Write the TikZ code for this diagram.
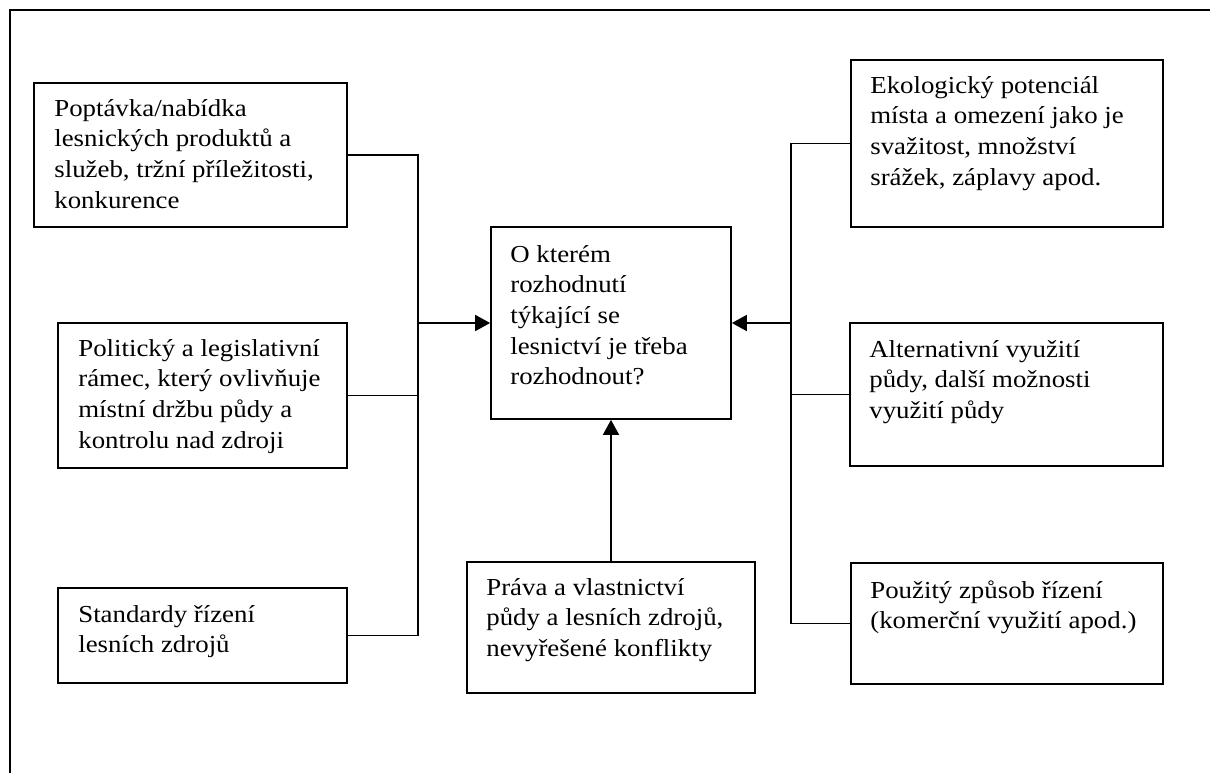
\documentclass[tikz,border=0pt]{standalone}
\usepackage{fontspec}
\setmainfont{Liberation Serif}[FakeStretch=1.1]
\usetikzlibrary{arrows.meta}

\tikzset{
  box/.style={draw, line width=1.7pt, inner sep=0pt, rectangle},
  txt/.style={inner sep=0pt, anchor=base west},
  link/.style={line width=1.7pt},
  arrowlink/.style={line width=1.7pt, -{Triangle[length=15pt,width=16pt]}},
}
\newcommand{\boxtext}[1]{\parbox[t]{330pt}{\fontsize{24.4}{30.7}\selectfont #1}}

\begin{document}
\begin{tikzpicture}[x=1pt,y=-1pt]
  \useasboundingbox (0,0) rectangle (1210,773);

  % outer frame (top and left edges)
  \draw[line width=1.7pt] (10,773) -- (10,10) -- (1210,10);

  % left column
  \node[box, minimum width=313pt, minimum height=144pt] (b1) at (190.5,155) {};
  \node[box, minimum width=289pt, minimum height=145pt] (b2) at (202.5,395.5) {};
  \node[box, minimum width=289pt, minimum height=95pt]  (b3) at (202.5,635.5) {};

  % centre
  \node[box, minimum width=240pt, minimum height=192pt] (c) at (611,323) {};
  \node[box, minimum width=288pt, minimum height=131pt] (bt) at (611,627.5) {};

  % right column
  \node[box, minimum width=312pt, minimum height=167pt] (r1) at (1007,143.5) {};
  \node[box, minimum width=313pt, minimum height=143pt] (r2) at (1006.5,394.5) {};
  \node[box, minimum width=312pt, minimum height=121pt] (r3) at (1007,623.5) {};

  % texts
  \node[txt] (b1t) at ([xshift=21pt,yshift=-34pt]b1.north west)
    {\boxtext{Poptávka/nabídka\\lesnických produktů a\\služeb, tržní příležitosti,\\konkurence}};
  \node[txt] (b2t) at ([xshift=21pt,yshift=-34pt]b2.north west)
    {\boxtext{Politický a legislativní\\rámec, který ovlivňuje\\místní držbu půdy a\\kontrolu nad zdroji}};
  \node[txt] (b3t) at ([xshift=21pt,yshift=-35pt]b3.north west)
    {\boxtext{Standardy řízení\\lesních zdrojů}};
  \node[txt] (ct) at ([xshift=20pt,yshift=-36pt]c.north west)
    {\boxtext{O kterém\\rozhodnutí\\týkající se\\lesnictví je třeba\\rozhodnout?}};
  \node[txt] (btt) at ([xshift=20pt,yshift=-34pt]bt.north west)
    {\boxtext{Práva a vlastnictví\\půdy a lesních zdrojů,\\nevyřešené konflikty}};
  \node[txt] (r1t) at ([xshift=20pt,yshift=-34pt]r1.north west)
    {\boxtext{Ekologický potenciál\\místa a omezení jako je\\svažitost, množství\\srážek, záplavy apod.}};
  \node[txt] (r2t) at ([xshift=20pt,yshift=-35pt]r2.north west)
    {\boxtext{Alternativní využití\\půdy, další možnosti\\využití půdy}};
  \node[txt] (r3t) at ([xshift=20pt,yshift=-36pt]r3.north west)
    {\boxtext{Použitý způsob řízení\\(komerční využití apod.)}};

  % collecting lines and arrows
  \coordinate (lbus) at (418,323);
  \coordinate (rbus) at (791,323);

  \draw[link] (b1.east) -| (lbus) |- (b3.east);
  \draw[link] (b2.east) -- (b2.east -| lbus);
  \draw[arrowlink] (lbus) -- (c.west);

  \draw[link] (r1.west) -| (rbus) |- (r3.west);
  \draw[link] (r2.west) -- (r2.west -| rbus);
  \draw[arrowlink] (rbus) -- (c.east);

  \draw[arrowlink] (bt.north) -- (c.south);
\end{tikzpicture}
\end{document}
